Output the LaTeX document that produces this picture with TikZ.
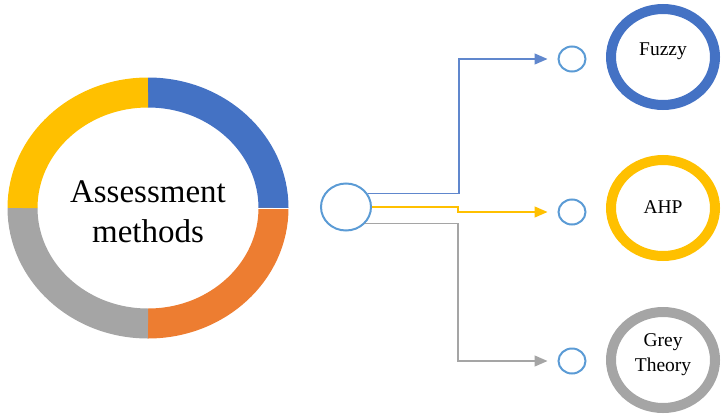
\documentclass[tikz,border=0pt]{standalone}
\usepackage{fontspec}
\setmainfont{Liberation Serif}
\usetikzlibrary{arrows.meta,shapes.geometric}
\definecolor{cblue}{HTML}{4472C4}
\definecolor{corange}{HTML}{ED7D31}
\definecolor{cgray}{HTML}{A5A5A5}
\definecolor{cyellow}{HTML}{FFC000}
\definecolor{clight}{HTML}{5B9BD5}
\tikzset{
  seg/.style={line width=30pt},
  hubnode/.style={ellipse, draw=clight, line width=2pt, minimum width=50pt, minimum height=47pt, inner sep=0pt},
  dot/.style={ellipse, draw=clight, line width=2pt, minimum width=27pt, minimum height=25pt, inner sep=0pt},
  ring/.style={ellipse, line width=10pt, minimum width=104pt, minimum height=96pt, inner sep=0pt},
  lbl/.style={font=\fontsize{19.5}{25}\selectfont, align=center, inner sep=0pt},
  link/.style={line width=1.3pt, shorten >=10pt, -{Triangle[length=13pt,width=11pt]}},
}
\begin{document}
\begin{tikzpicture}[x=1pt,y=-1pt]
\useasboundingbox (0,0) rectangle (722,415);

% doughnut made of four quarter arcs
\draw[seg, cblue]   (148,208) ++(-90:125.5 and 115.5) arc[start angle=-90, end angle=0,   x radius=125.5, y radius=115.5];
\draw[seg, corange] (148,208) ++(0:125.5 and 115.5)   arc[start angle=0,   end angle=90,  x radius=125.5, y radius=115.5];
\draw[seg, cgray]   (148,208) ++(90:125.5 and 115.5)  arc[start angle=90,  end angle=180, x radius=125.5, y radius=115.5];
\draw[seg, cyellow] (148,208) ++(180:125.5 and 115.5) arc[start angle=180, end angle=270, x radius=125.5, y radius=115.5];
\draw[white, line width=1pt] (256,208) -- (292,208);
\node[font=\fontsize{33}{40}\selectfont, align=center, inner sep=0pt] (main) at (148,212) {Assessment\\methods};

% hub and target dots
\node[hubnode] (hub) at (346,207) {};
\node[dot] (s1) at (572,59) {};
\node[dot] (s2) at (572,212) {};
\node[dot] (s3) at (572,361) {};

% method rings
\node[ring, draw=cblue]   (fuzzy) at (663,57) {};
\node[ring, draw=cyellow] (ahp)   at (663,208) {};
\node[ring, draw=cgray]   (grey)  at (663,360) {};
\node[lbl] (fuzzyt) at (663,51) {Fuzzy};
\node[lbl] (ahpt)   at (663,207) {AHP};
\node[lbl] (greyt)  at (663,355) {Grey\\Theory};

% bend points of the connectors
\coordinate (j1) at (459,59);
\coordinate (j2) at (458,0);
\coordinate (j3) at (458,361);

\draw[link, cblue!85]  (hub.32) -| (j1) -- (s1);
\draw[link, cyellow]   (hub.east) -- (hub.east -| j2) |- (s2);
\draw[link, cgray]     (hub.-40) -| (j3) -- (s3);
\end{tikzpicture}
\end{document}
